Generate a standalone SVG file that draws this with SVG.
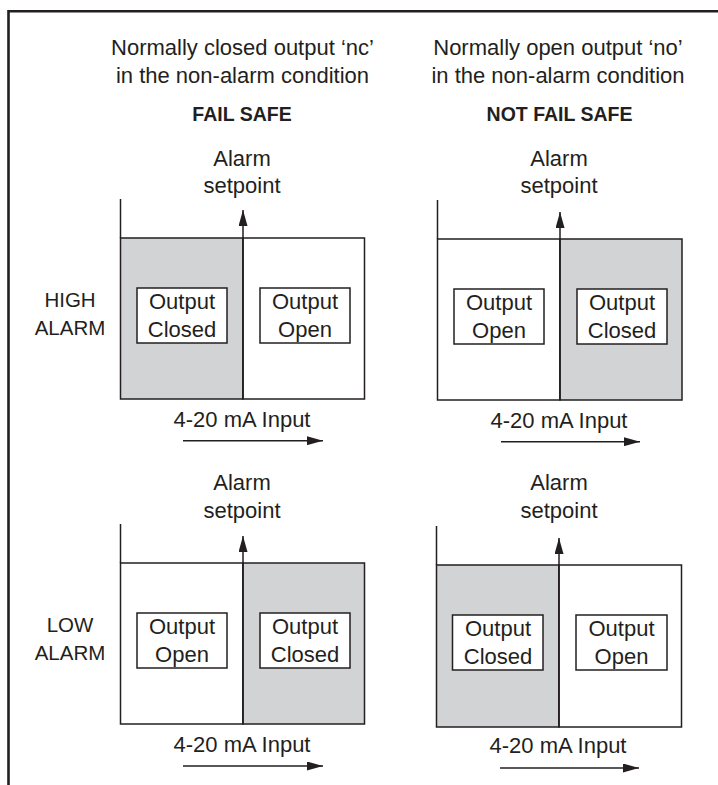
<svg xmlns="http://www.w3.org/2000/svg" width="718" height="785" viewBox="0 0 718 785">
<style>
text{font-family:"Liberation Sans",Arial,sans-serif;fill:#231f20;text-anchor:middle}
.t{font-size:22px}
.b{font-size:19.5px;font-weight:bold}
.s{font-size:20.5px}
.ln{stroke:#231f20;stroke-width:1.5;fill:none}
.box{stroke:#231f20;stroke-width:1.5}
.g{fill:#d1d3d4}
.w{fill:#ffffff}
.frame{stroke:#231f20;stroke-width:2.6;fill:none}
</style>
<defs>
<marker id="ah" markerUnits="userSpaceOnUse" markerWidth="16" markerHeight="9" refX="16" refY="4.5" orient="auto">
<path d="M0,0 L16,4.5 L0,9 Z" fill="#231f20"/>
</marker>
</defs>
<rect width="718" height="785" fill="#ffffff"/>
<path class="frame" d="M8.5,785 V11.3 H718"/>

<g id="headers">
<text class="t" x="242.5" y="55">Normally closed output ‘nc’</text>
<text class="t" x="242.5" y="83">in the non-alarm condition</text>
<text class="b" x="242" y="121">FAIL SAFE</text>
<text class="t" x="558" y="55">Normally open output ‘no’</text>
<text class="t" x="558" y="83">in the non-alarm condition</text>
<text class="b" x="559.5" y="121">NOT FAIL SAFE</text>
</g>

<g id="row-labels">
<text class="s" x="70" y="306.5">HIGH</text>
<text class="s" x="70" y="335">ALARM</text>
<text class="s" x="70" y="631.5">LOW</text>
<text class="s" x="70" y="660">ALARM</text>
</g>

<g id="panel-high-failsafe">
<text class="t" x="242" y="166">Alarm</text>
<text class="t" x="242" y="193">setpoint</text>
<rect class="box g" x="120.5" y="238" width="122.5" height="161"/>
<rect class="box w" x="243" y="238" width="121.5" height="161"/>
<g id="hf-closed"><rect class="box w" x="137" y="288" width="90" height="55"/>
<text class="t" x="182" y="309">Output</text><text class="t" x="182" y="336.5">Closed</text></g>
<g id="hf-open"><rect class="box w" x="260" y="288" width="90" height="55"/>
<text class="t" x="305" y="309">Output</text><text class="t" x="305" y="336.5">Open</text></g>
<text class="t" x="242" y="427">4-20 mA Input</text>
</g>

<g id="panel-high-notfailsafe">
<text class="t" x="559" y="166">Alarm</text>
<text class="t" x="559" y="193">setpoint</text>
<rect class="box w" x="437.5" y="239" width="122.5" height="161"/>
<rect class="box g" x="560" y="239" width="122" height="161"/>
<g id="hn-open"><rect class="box w" x="454" y="289" width="90" height="55"/>
<text class="t" x="499" y="310">Output</text><text class="t" x="499" y="337.5">Open</text></g>
<g id="hn-closed"><rect class="box w" x="577" y="289" width="90" height="55"/>
<text class="t" x="622" y="310">Output</text><text class="t" x="622" y="337.5">Closed</text></g>
<text class="t" x="559" y="427.5">4-20 mA Input</text>
</g>

<g id="panel-low-failsafe">
<text class="t" x="242" y="490">Alarm</text>
<text class="t" x="242" y="518">setpoint</text>
<rect class="box w" x="120.5" y="563" width="122.5" height="161"/>
<rect class="box g" x="243" y="563" width="121.5" height="161"/>
<g id="lf-open"><rect class="box w" x="137" y="613" width="90" height="55"/>
<text class="t" x="182" y="634">Output</text><text class="t" x="182" y="661.5">Open</text></g>
<g id="lf-closed"><rect class="box w" x="260" y="613" width="90" height="55"/>
<text class="t" x="305" y="634">Output</text><text class="t" x="305" y="661.5">Closed</text></g>
<text class="t" x="242" y="752">4-20 mA Input</text>
</g>

<g id="panel-low-notfailsafe">
<text class="t" x="559" y="490">Alarm</text>
<text class="t" x="559" y="518">setpoint</text>
<rect class="box g" x="436.5" y="565" width="122.5" height="162"/>
<rect class="box w" x="559" y="565" width="122.5" height="162"/>
<g id="ln-closed"><rect class="box w" x="452.5" y="615" width="90.5" height="55"/>
<text class="t" x="498" y="636">Output</text><text class="t" x="498" y="663.5">Closed</text></g>
<g id="ln-open"><rect class="box w" x="576" y="615" width="91" height="55"/>
<text class="t" x="621.5" y="636">Output</text><text class="t" x="621.5" y="663.5">Open</text></g>
<text class="t" x="558" y="753">4-20 mA Input</text>
</g>

<g id="connectors">
<line class="ln" x1="120.5" y1="238" x2="120.5" y2="199"/>
<line class="ln" x1="243" y1="399" x2="243" y2="210" marker-end="url(#ah)"/>
<line class="ln" x1="183" y1="440.7" x2="323" y2="440.7" marker-end="url(#ah)"/>

<line class="ln" x1="437.5" y1="239" x2="437.5" y2="200"/>
<line class="ln" x1="560" y1="400" x2="560" y2="212" marker-end="url(#ah)"/>
<line class="ln" x1="501" y1="441.7" x2="640" y2="441.7" marker-end="url(#ah)"/>

<line class="ln" x1="120.5" y1="563" x2="120.5" y2="524"/>
<line class="ln" x1="243" y1="724" x2="243" y2="536" marker-end="url(#ah)"/>
<line class="ln" x1="183" y1="766" x2="323" y2="766" marker-end="url(#ah)"/>

<line class="ln" x1="436.5" y1="565" x2="436.5" y2="526"/>
<line class="ln" x1="559" y1="727" x2="559" y2="538" marker-end="url(#ah)"/>
<line class="ln" x1="500" y1="768" x2="639" y2="768" marker-end="url(#ah)"/>
</g>
</svg>
